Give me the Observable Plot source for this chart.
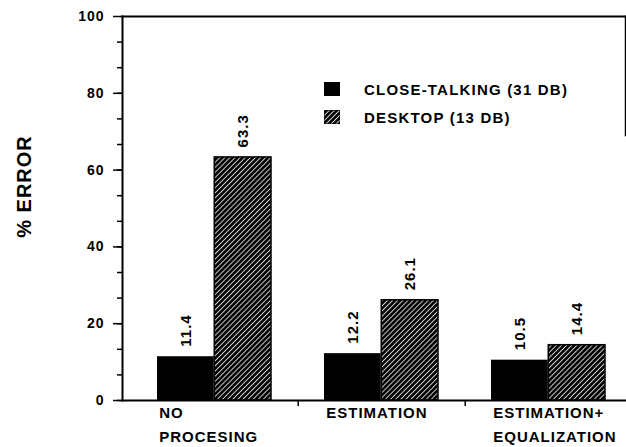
<!DOCTYPE html>
<html><head><meta charset="utf-8">
<script src="https://cdn.jsdelivr.net/npm/d3@7"></script>
<script src="https://cdn.jsdelivr.net/npm/@observablehq/plot@0.6"></script>
<style>
body{margin:0;background:#fff;}
#wrap{position:relative;width:626px;height:447px;}
#wrap svg text{letter-spacing:1px;}
#legend{position:absolute;left:324px;top:75px;font-family:"Liberation Sans",Arial,sans-serif;font-weight:bold;font-size:15px;letter-spacing:1.2px;color:#000;}
.row{display:flex;align-items:center;height:28px;}
.sw{width:16px;height:14px;margin-right:24px;}
</style></head><body><div id="wrap"></div>
<script>
// ---- data ----
const groups = ["NO\nPROCESING", "ESTIMATION", "ESTIMATION+\nEQUALIZATION"];
const seriesNames = ["CLOSE-TALKING (31 DB)", "DESKTOP (13 DB)"];
const closeTalking = [11.4, 12.2, 10.5];
const desktop = [63.3, 26.1, 14.4];
const yMajorTicks = [0, 20, 40, 60, 80, 100];
const yTitle = "% ERROR";

const closeData = groups.map((g, i) => ({group: g, value: closeTalking[i]}));
const deskData = groups.map((g, i) => ({group: g, value: desktop[i]}));
const minorTicks = d3.range(0, 100, 20 / 3);

// ---- layout ----
const W = 626, H = 447, mL = 122, mR = 1, mT = 16, mB = 47;
const pIn = 0.316, pOut = 0.16, align = 0.637;
const L = W - mL - mR;
const step = L / (groups.length - pIn + 2 * pOut);
const bw = step * (1 - pIn);
const half = bw / 2;
const font = "'Liberation Sans', Arial, Helvetica, sans-serif";

const chart = Plot.plot({
  width: W, height: H,
  marginLeft: mL, marginRight: mR, marginTop: mT, marginBottom: mB,
  style: {fontFamily: font, color: "#000", background: "#fff", overflow: "visible"},
  x: {domain: groups, paddingInner: pIn, paddingOuter: pOut, align: align},
  y: {domain: [0, 100]},
  marks: [
    Plot.barY(closeData, {x: "group", y: "value", fill: "#000", insetRight: half}),
    Plot.barY(deskData, {x: "group", y: "value", fill: "url(#hatch)", stroke: "#000", strokeWidth: 1.5, insetLeft: half}),
    Plot.text(closeData, {x: "group", y: "value", text: d => d.value.toFixed(1), rotate: -90, textAnchor: "start", dx: -half / 2, dy: -10, fontSize: 15, fontWeight: "bold"}),
    Plot.text(deskData, {x: "group", y: "value", text: d => d.value.toFixed(1), rotate: -90, textAnchor: "start", dx: half / 2, dy: -10, fontSize: 15, fontWeight: "bold"}),
    Plot.text(groups, {x: d => d, text: d => d, frameAnchor: "bottom", textAnchor: "start", lineAnchor: "top", dx: -half + 2, dy: 0, lineHeight: 1.6, fontSize: 15, fontWeight: "bold"}),
    Plot.axisX({tickSize: 6, tickFormat: () => "", dx: step / 2, label: null, strokeWidth: 1.5}),
    Plot.axisY(minorTicks, {tickSize: 5, tickFormat: () => "", label: null, strokeWidth: 1.5}),
    Plot.axisY(yMajorTicks, {tickSize: 9, tickPadding: 9, fontSize: 14, fontWeight: "bold", label: null, strokeWidth: 1.5}),
    Plot.frame({anchor: "left", strokeWidth: 2}),
    Plot.frame({anchor: "top", strokeWidth: 2}),
    Plot.frame({anchor: "bottom", strokeWidth: 2}),
    Plot.frame({anchor: "right", strokeWidth: 1.5, insetBottom: 265}),
    Plot.text([yTitle], {text: d => d, frameAnchor: "left", textAnchor: "middle", rotate: -90, dx: -98, dy: -22, fontSize: 20, fontWeight: "bold"})
  ]
});

d3.select(chart).insert("defs", ":first-child").html(
  '<pattern id="hatch" patternUnits="userSpaceOnUse" width="3.6" height="3.6" patternTransform="rotate(45)">' +
  '<rect width="3.6" height="3.6" fill="#000"></rect>' +
  '<line x1="0.5" y1="0" x2="0.5" y2="3.6" stroke="#fff" stroke-width="0.8"></line></pattern>'
);

const wrap = document.getElementById("wrap");
wrap.appendChild(chart);

const legend = document.createElement("div");
legend.id = "legend";
const fills = ["#000", "url(#hatch)"];
legend.innerHTML = seriesNames.map((s, i) =>
  `<div class="row"><svg class="sw" width="16" height="14"><rect width="16" height="14" fill="${fills[i]}" stroke="#000" stroke-width="1"></rect></svg><span>${s}</span></div>`
).join("");
wrap.appendChild(legend);
</script>
</body></html>
